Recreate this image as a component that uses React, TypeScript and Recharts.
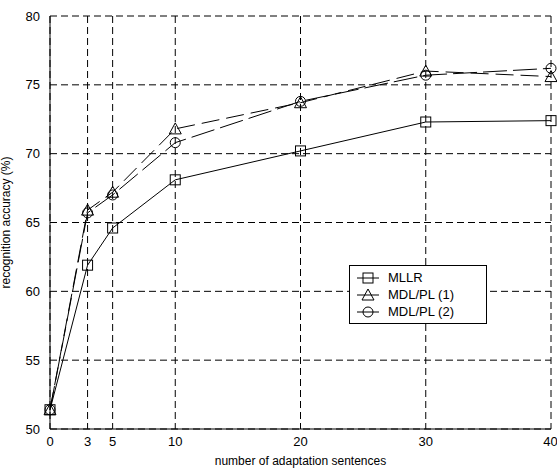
import { LineChart, Line, XAxis, YAxis, CartesianGrid } from 'recharts'

const sentences = [0, 3, 5, 10, 20, 30, 40]
const mllr = [51.4, 61.9, 64.6, 68.1, 70.2, 72.3, 72.4]
const mdl1 = [51.4, 65.9, 67.2, 71.8, 73.7, 76.0, 75.6]
const mdl2 = [51.4, 65.7, 67.0, 70.8, 73.8, 75.7, 76.2]
const yTicks = [50, 55, 60, 65, 70, 75, 80]

const data = sentences.map((n, i) => ({
  n,
  mllr: mllr[i],
  mdl1: mdl1[i],
  mdl2: mdl2[i],
}))

const font = 'Arial, "Liberation Sans", sans-serif'

const Square = (props: any) => {
  const { cx, cy } = props
  return <rect x={cx - 5} y={cy - 5} width={10} height={10} fill="none" stroke="#000" strokeWidth={1} />
}
const Triangle = (props: any) => {
  const { cx, cy } = props
  return (
    <polygon
      points={`${cx},${cy - 6} ${cx - 6},${cy + 5} ${cx + 6},${cy + 5}`}
      fill="none"
      stroke="#000"
      strokeWidth={1}
    />
  )
}
const Circle = (props: any) => {
  const { cx, cy } = props
  return <circle cx={cx} cy={cy} r={5} fill="none" stroke="#000" strokeWidth={1} />
}

const legendRows = [
  { name: 'MLLR', mark: 'square' },
  { name: 'MDL/PL (1)', mark: 'triangle' },
  { name: 'MDL/PL (2)', mark: 'circle' },
]

function LegendBox() {
  return (
    <div
      style={{
        position: 'absolute',
        left: 349,
        top: 265,
        border: '1px solid #000',
        background: '#fff',
        width: 136,
        padding: '3px 0 3px 0',
        fontFamily: font,
        fontSize: 13,
        color: '#000',
      }}
    >
      {legendRows.map((r) => (
        <div key={r.name} style={{ display: 'flex', alignItems: 'center', height: 17 }}>
          <svg width={30} height={14} style={{ marginLeft: 6 }}>
            <line x1={1} y1={7} x2={23} y2={7} stroke="#000" />
            {r.mark === 'square' && <Square cx={12} cy={7} />}
            {r.mark === 'triangle' && <Triangle cx={12} cy={7} />}
            {r.mark === 'circle' && <Circle cx={12} cy={7} />}
          </svg>
          <span style={{ marginLeft: 2 }}>{r.name}</span>
        </div>
      ))}
    </div>
  )
}

export default function App() {
  return (
    <div style={{ position: 'absolute', left: 0, top: 0, width: 557, height: 470, background: '#fff' }}>
      <LineChart width={557} height={470} data={data} margin={{ top: 16, right: 6, left: 0, bottom: 0 }}>
        <CartesianGrid stroke="#000" strokeDasharray="7 4" strokeWidth={1} />
        <XAxis
          dataKey="n"
          type="number"
          domain={[0, 40]}
          ticks={sentences}
          height={41}
          tickLine={false}
          axisLine={{ stroke: '#000' }}
          tick={{ fill: '#000', fontSize: 13, fontFamily: font }}
          tickMargin={2}
          label={{ value: 'number of adaptation sentences', position: 'insideBottom', offset: 5, fill: '#000', fontSize: 12, fontFamily: font }}
        />
        <YAxis
          type="number"
          domain={[50, 80]}
          ticks={yTicks}
          width={50}
          tickLine={false}
          axisLine={{ stroke: '#000' }}
          tick={{ fill: '#000', fontSize: 13, fontFamily: font }}
          tickMargin={4}
          label={{ value: 'recognition accuracy (%)', angle: -90, position: 'insideLeft', offset: 6, style: { textAnchor: 'middle' }, fill: '#000', fontSize: 12, fontFamily: font }}
        />
        <Line dataKey="mllr" stroke="#000" strokeWidth={1} dot={<Square />} activeDot={false} isAnimationActive={false} />
        <Line dataKey="mdl1" stroke="#000" strokeWidth={1} strokeDasharray="18 7" dot={<Triangle />} activeDot={false} isAnimationActive={false} />
        <Line dataKey="mdl2" stroke="#000" strokeWidth={1} strokeDasharray="24 6" dot={<Circle />} activeDot={false} isAnimationActive={false} />
      </LineChart>
      <LegendBox />
    </div>
  )
}
